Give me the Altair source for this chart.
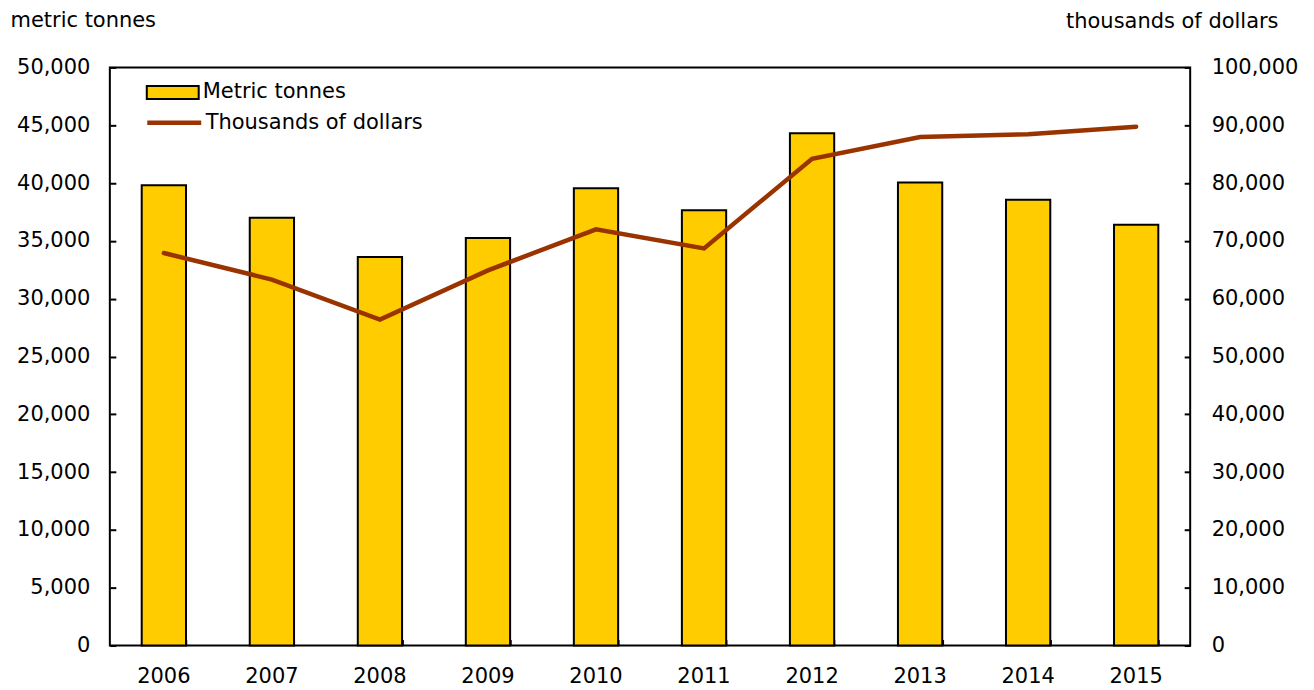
import altair as alt
import pandas as pd

years = ["2006", "2007", "2008", "2009", "2010", "2011", "2012", "2013", "2014", "2015"]
tonnes = [39800, 37000, 33600, 35250, 39550, 37650, 44300, 40050, 38550, 36400]
dollars = [67900, 63300, 56400, 64900, 72000, 68700, 84200, 87950, 88450, 89750]

bar_series = "Metric tonnes"
line_series = "Thousands of dollars"
bar_color = "#FFCC00"
line_color = "#993300"
FONT = "DejaVu Sans"
FS = 21
TICK = 6

df = pd.DataFrame({
    "year": years,
    "tonnes": tonnes,
    "dollars": dollars,
    "s1": [bar_series] * len(years),
    "s2": [line_series] * len(years),
})

xscale = alt.Scale(paddingInner=0.59, paddingOuter=0.295)
yL = alt.Scale(domain=[0, 50000], nice=False)
yR = alt.Scale(domain=[0, 100000], nice=False)

base = alt.Chart(df)

bars = base.mark_bar(stroke="black", strokeWidth=2).encode(
    x=alt.X("year:N", scale=xscale, sort=years,
            axis=alt.Axis(title=None, labelAngle=0, ticks=False, tickSize=0, domain=False,
                          labelPadding=20, labelFontSize=FS, labelFont=FONT, labelColor="black")),
    y=alt.Y("tonnes:Q", scale=yL,
            axis=alt.Axis(orient="left", values=list(range(0, 50001, 5000)), format=",.0f",
                          ticks=False, tickSize=0, domain=False, grid=False,
                          labelPadding=20, labelFontSize=FS, labelFont=FONT, labelColor="black",
                          title="metric tonnes", titleAngle=0, titleAlign="left",
                          titleBaseline="alphabetic", titleX=-100, titleY=-41,
                          titleFontSize=FS, titleFontWeight="normal", titleFont=FONT,
                          titleColor="black")),
    fill=alt.Fill("s1:N", scale=alt.Scale(domain=[bar_series], range=[bar_color]),
                  legend=alt.Legend(title=None, orient="none", legendX=36, legendY=-2,
                                    symbolType="M-1,-0.25H1V0.25H-1Z", symbolSize=2704,
                                    symbolStrokeColor="black", symbolStrokeWidth=2,
                                    symbolOpacity=1, labelFontSize=FS, labelFont=FONT,
                                    labelColor="black", labelOffset=3, labelLimit=500,
                                    padding=0)),
)

line = base.mark_line(strokeWidth=4.5, strokeCap="round", strokeJoin="miter").encode(
    x=alt.X("year:N", scale=xscale, sort=years, axis=None),
    y=alt.Y("dollars:Q", scale=yR,
            axis=alt.Axis(orient="right", values=list(range(0, 100001, 10000)), format=",.0f",
                          ticks=False, tickSize=0, domain=False, grid=False,
                          labelPadding=21, labelFontSize=FS, labelFont=FONT, labelColor="black",
                          title="thousands of dollars", titleAngle=0, titleAlign="right",
                          titleBaseline="alphabetic", titleX=88, titleY=-40,
                          titleFontSize=FS, titleFontWeight="normal", titleFont=FONT,
                          titleColor="black")),
    stroke=alt.Stroke("s2:N", scale=alt.Scale(domain=[line_series], range=[line_color]),
                      legend=alt.Legend(title=None, orient="none", legendX=35, legendY=26,
                                        symbolType="stroke", symbolSize=2916,
                                        symbolStrokeWidth=4.5, labelFontSize=FS,
                                        labelFont=FONT, labelColor="black", labelOffset=2,
                                        labelLimit=500, padding=0)),
)

ticksL = base.mark_bar(opacity=0).encode(
    x=alt.X("year:N", scale=xscale, sort=years,
            axis=alt.Axis(title=None, orient="bottom", offset=-TICK, tickSize=TICK, tickWidth=2,
                          tickColor="black", tickBand="extent", labels=False, domain=False)),
    y=alt.Y("tonnes:Q", scale=yL,
            axis=alt.Axis(title=None, orient="left", offset=-TICK, tickSize=TICK, tickWidth=2,
                          tickColor="black", values=list(range(0, 50001, 5000)),
                          labels=False, domain=False, grid=False)),
)

ticksR = base.mark_line(opacity=0).encode(
    x=alt.X("year:N", scale=xscale, sort=years, axis=None),
    y=alt.Y("dollars:Q", scale=yR,
            axis=alt.Axis(title=None, orient="right", offset=-TICK, tickSize=TICK, tickWidth=2,
                          tickColor="black", values=list(range(0, 100001, 10000)),
                          labels=False, domain=False, grid=False)),
)

chart = alt.layer(bars, ticksL, line, ticksR).resolve_scale(
    y="independent"
).resolve_axis(
    x="independent", y="independent"
).resolve_legend(
    fill="independent", stroke="independent"
).properties(
    width=1082, height=579,
    padding={"left": 102, "top": 59, "right": 116, "bottom": 44},
    autosize=alt.AutoSizeParams(type="none"),
    background="white",
).configure_view(
    stroke="black", strokeWidth=2
)

chart.save("out.html", embed_options={"renderer": "svg", "actions": False})
